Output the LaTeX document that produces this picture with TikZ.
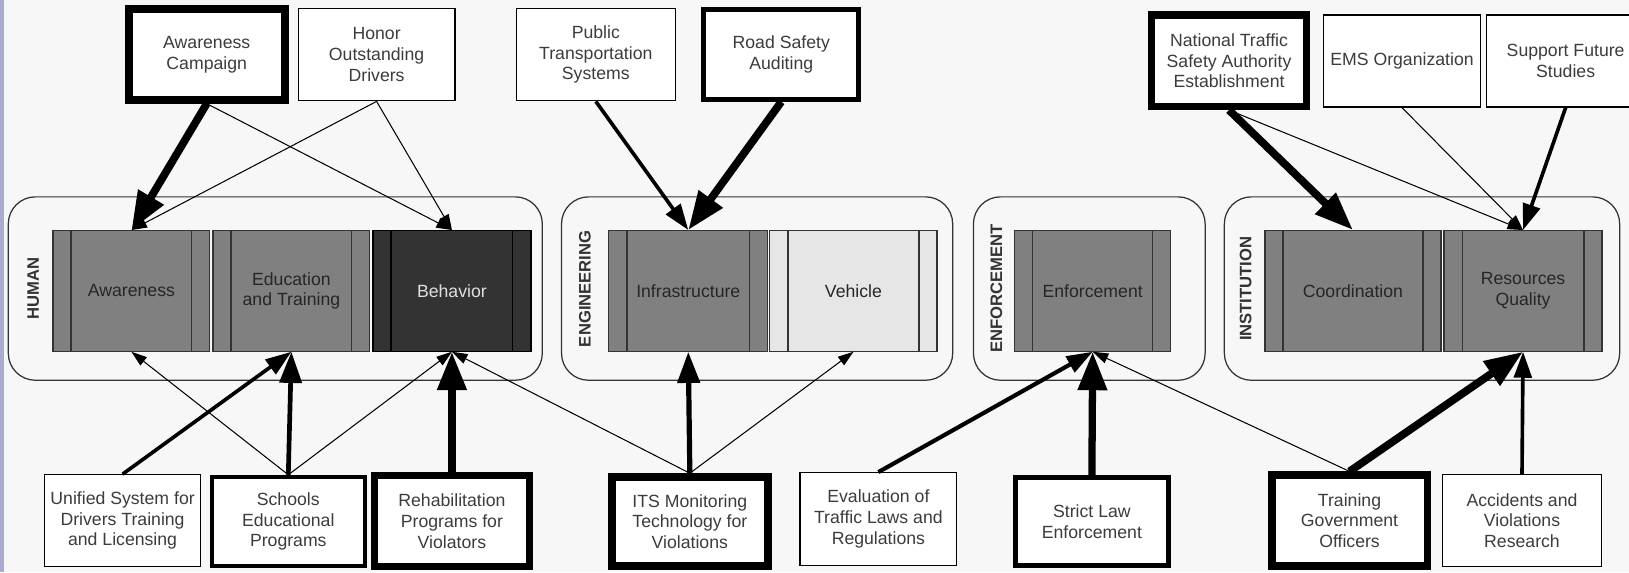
\documentclass[tikz,border=0pt]{standalone}
\usepackage{fontspec}
\setmainfont{Liberation Sans}
\usetikzlibrary{arrows.meta}
\definecolor{bg}{HTML}{F7F7F7}
\definecolor{txt}{HTML}{3C3C3C}
\definecolor{midg}{HTML}{808080}
\definecolor{darkg}{HTML}{333333}
\definecolor{lightg}{HTML}{E6E6E6}
\definecolor{edgestrip}{HTML}{ABABCF}
\begin{document}
\begin{tikzpicture}[x=1pt,y=-1pt,
  every node/.style={font=\fontsize{17}{20}\selectfont, text=txt},
  box/.style={draw=black, fill=white, inner sep=0pt, align=center, line width=#1},
  box/.default=1.2,
  proc/.style={draw=darkg, line width=1.2pt, fill=midg, inner sep=0pt, align=center, minimum height=116pt, text=black!85},
  grp/.style={draw=darkg, line width=1.2pt, rounded corners=26pt, inner sep=0pt},
  glabel/.style={rotate=90, font=\bfseries\fontsize{16}{18}\selectfont, text=darkg},
  arrthin/.style={line width=1pt, -{Triangle[length=15pt,width=10pt]}},
  arrmed/.style={line width=3.5pt, -{Triangle[length=25pt,width=17pt]}},
  arrmid/.style={line width=5pt, -{Triangle[length=30pt,width=21pt]}},
  arrthick/.style={line width=7.5pt, -{Triangle[length=37pt,width=27pt]}},
  bar/.style={draw=darkg, line width=1.2pt}
]
\useasboundingbox (0,0) rectangle (1568,551);
\clip (0,0) rectangle (1568,551);
\fill[bg] (0,0) rectangle (1568,551);
\fill[edgestrip] (0,0) rectangle (4,551);

% group containers
\node[grp, minimum width=514pt, minimum height=176.5pt] (human) at (265,277.75) {};
\node[grp, minimum width=376.5pt, minimum height=176.5pt] (eng) at (728.75,277.75) {};
\node[grp, minimum width=223pt, minimum height=176.5pt] (enf) at (1048.5,277.75) {};
\node[grp, minimum width=380.5pt, minimum height=176.5pt] (inst) at (1368.75,277.75) {};

\node[glabel] (lhuman) at (32,278) {HUMAN};
\node[glabel] (leng) at (563,278) {ENGINEERING};
\node[glabel] (lenf) at (959,278) {ENFORCEMENT};
\node[glabel] (linst) at (1199,278) {INSTITUTION};

% inner process boxes
\node[proc, minimum width=151pt] (aw) at (126.5,280) {Awareness};
\node[proc, minimum width=151pt] (edu) at (280.5,280) {Education\\and Training};
\node[proc, minimum width=152pt, fill=darkg, draw=black, text=white!88!black] (beh) at (435,280) {Behavior};
\node[proc, minimum width=153pt] (infra) at (662.5,280) {Infrastructure};
\node[proc, minimum width=161pt, fill=lightg] (veh) at (821.5,280) {Vehicle};
\node[proc, minimum width=150.5pt] (enfb) at (1051.75,280) {Enforcement};
\node[proc, minimum width=169.5pt] (coord) at (1302.3,280) {Coordination};
\node[proc, minimum width=152pt] (res) at (1466,280) {Resources\\Quality};

\foreach \n in {aw,edu,infra,veh,enfb,coord,res}{
  \draw[bar] ([xshift=18pt]\n.north west) -- ([xshift=18pt]\n.south west);
  \draw[bar] ([xshift=-18pt]\n.north east) -- ([xshift=-18pt]\n.south east);
}
\draw[bar, draw=black] ([xshift=18pt]beh.north west) -- ([xshift=18pt]beh.south west);
\draw[bar, draw=black] ([xshift=-18pt]beh.north east) -- ([xshift=-18pt]beh.south east);

% top boxes
\node[box=7.5pt, minimum width=150pt, minimum height=87pt] (camp) at (199,52.5) {Awareness\\Campaign};
\node[box, minimum width=151pt, minimum height=89pt] (honor) at (362.5,52.5) {Honor\\Outstanding\\Drivers};
\node[box, minimum width=153pt, minimum height=89pt] (public) at (573.5,52.5) {Public\\Transportation\\Systems};
\node[box=5pt, minimum width=149pt, minimum height=86.5pt] (road) at (752,52.25) {Road Safety\\Auditing};
\node[box=7pt, minimum width=149pt, minimum height=88pt] (natl) at (1183,58.5) {National Traffic\\Safety Authority\\Establishment};
\node[box, minimum width=151pt, minimum height=88.5pt] (ems) at (1349.5,58.75) {EMS Organization};
\node[box, minimum width=152pt, minimum height=88.5pt] (support) at (1507,58.75) {Support Future\\Studies};

% bottom boxes
\node[box, minimum width=150pt, minimum height=88pt] (unified) at (118,501) {Unified System for\\Drivers Training\\and Licensing};
\node[box=4pt, minimum width=147pt, minimum height=86pt] (schools) at (277.5,502) {Schools\\Educational\\Programs};
\node[box=7pt, minimum width=149pt, minimum height=88pt] (rehab) at (435,501.5) {Rehabilitation\\Programs for\\Violators};
\node[box=7.5pt, minimum width=150.5pt, minimum height=85.5pt] (its) at (664,502) {ITS Monitoring\\Technology for\\Violations};
\node[box, minimum width=151pt, minimum height=89pt] (eval) at (845.5,499.5) {Evaluation of\\Traffic Laws and\\Regulations};
\node[box=5pt, minimum width=147.5pt, minimum height=85pt] (strict) at (1051,502) {Strict Law\\Enforcement};
\node[box=7pt, minimum width=149.5pt, minimum height=87.5pt] (training) at (1299,501) {Training\\Government\\Officers};
\node[box, minimum width=152.5pt, minimum height=88pt] (accid) at (1465,501) {Accidents and\\Violations\\Research};

% top connectors
\draw[arrthin] (camp.south) -- (beh.north);
\draw[arrthin] (honor.south) -- (aw.north);
\draw[arrthin] (honor.south) -- (beh.north);
\draw[arrthick] (camp.south) -- (aw.north);
\draw[arrmed] (public.south) -- (infra.north);
\draw[arrthick] (road.south) -- (infra.north);
\draw[arrthin] (natl.south) -- (res.north);
\draw[arrthin] (ems.south) -- (res.north);
\draw[arrmed] (support.south) -- (res.north);
\draw[arrthick] (natl.south) -- (coord.north);

% bottom connectors
\draw[arrmed] (unified.north) -- (edu.south);
\draw[arrthin] (schools.north) -- (aw.south);
\draw[arrthin] (schools.north) -- (beh.south);
\draw[arrmid, line width=4.5pt] (schools.north) -- (edu.south);
\draw[arrthin] (its.north) -- (beh.south);
\draw[arrthick] (rehab.north) -- (beh.south);
\draw[arrthin] (its.north) -- (veh.south);
\draw[arrmid] (its.north) -- (infra.south);
\draw[arrmed, line width=4pt] (eval.north) -- (enfb.south);
\draw[arrthin] (training.north) -- (enfb.south);
\draw[arrthick, line width=7pt] (strict.north) -- (enfb.south);
\draw[arrthick] (training.north) -- (res.south);
\draw[arrmed] (accid.north) -- (res.south);
\end{tikzpicture}
\end{document}
